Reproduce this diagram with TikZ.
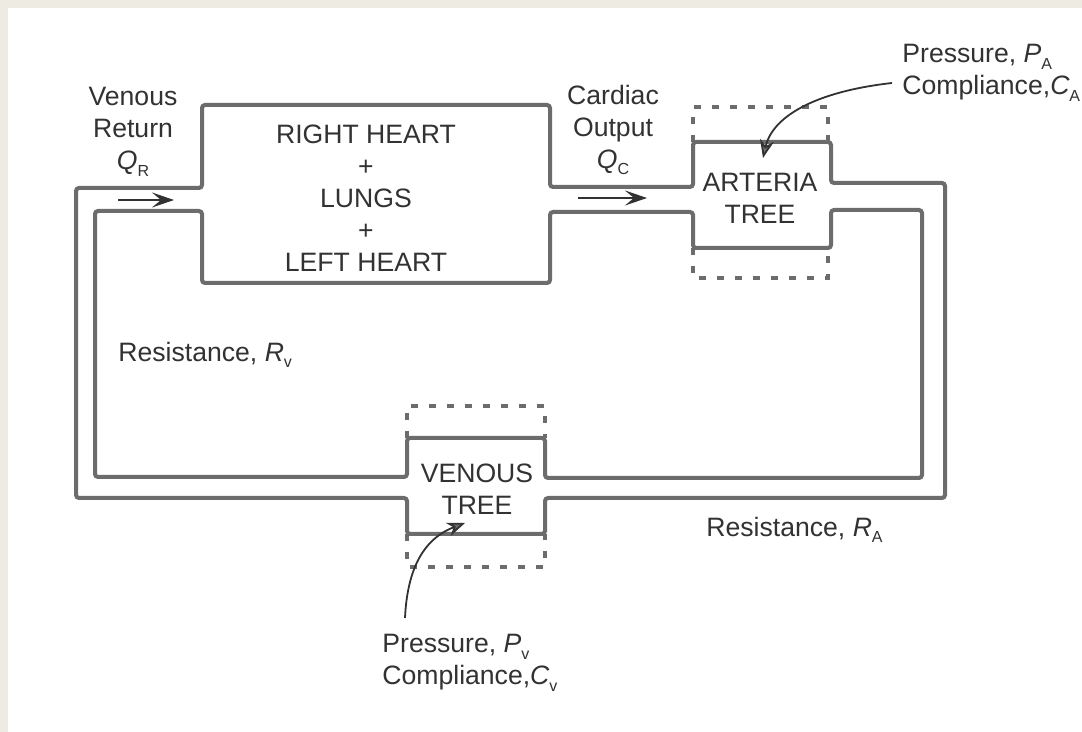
\documentclass[tikz,border=0pt]{standalone}
\usepackage{fontspec}
\setmainfont{Liberation Sans}
\usetikzlibrary{arrows.meta}
\usepackage{xcolor}
\definecolor{paper}{RGB}{237, 235, 226}
\definecolor{pipe}{RGB}{108, 108, 108}
\definecolor{ink}{RGB}{50, 50, 50}
\newcommand{\physvar}[2]{{\itshape #1}\raisebox{-3.2pt}{\fontsize{8}{8}\selectfont #2}}

\begin{document}
\begin{tikzpicture}[
  x=0.5pt, y=-0.5pt,
  wall/.style={draw=pipe, line width=2pt, rounded corners=1.5pt},
  cell/.style={draw=pipe, line width=1.6pt, dash pattern=on 3.5pt off 5.5pt},
  lbl/.style={text=ink, font=\fontsize{13.3}{16}\selectfont, inner sep=0pt,
              align=center},
  flow/.style={draw=ink, line width=1pt,
               -{Stealth[length=11pt, width=7.5pt, inset=4.5pt]}},
  pointer/.style={draw=ink, line width=0.9pt,
                  -{Stealth[length=9pt, width=7pt, fill=pipe]}}
]
  \fill[paper] (0,0) rectangle (1082,732);
  \fill[white] (8,8) rectangle (1082,732);
  \useasboundingbox (0,0) rectangle (1082,732);

  \draw[wall] (76,188) -- (202,188) -- (202,105) -- (550,105) -- (550,187)
    -- (693,187) -- (693,142) -- (831,142) -- (831,183) -- (945,183)
    -- (945,498) -- (545,498) -- (545,534) -- (407,534) -- (407,498)
    -- (76,498) -- cycle;
  \draw[wall] (95,211) -- (202,211) -- (202,283) -- (550,283) -- (550,212)
    -- (693,212) -- (693,248) -- (831,248) -- (831,210) -- (922,210)
    -- (922,478) -- (545,478) -- (545,438) -- (407,438) -- (407,477)
    -- (95,477) -- cycle;

  \draw[cell] (693,142) -- (693,107) -- (828,107) -- (828,142);
  \draw[cell] (693,248) -- (693,278) -- (828,278) -- (828,248);
  \draw[cell] (407,438) -- (407,406) -- (545,406) -- (545,438);
  \draw[cell] (407,534) -- (407,567) -- (545,567) -- (545,534);

  \node[lbl] (heart) at (366,198)
    {RIGHT HEART\\+\\LUNGS\\+\\LEFT HEART};
  \node[lbl] (venret) at (133,132) {Venous\\Return\\\physvar{Q}{R}};
  \node[lbl] (cardout) at (613,130) {Cardiac\\Output\\\physvar{Q}{C}};
  \node[lbl] (arttree) at (760,198) {ARTERIA\\TREE};
  \node[lbl] (ventree) at (477,489) {VENOUS\\TREE};
  \node[lbl, anchor=west] (resv) at (118,355) {Resistance, \physvar{R}{v}};
  \node[lbl, anchor=west] (resa) at (706,530) {Resistance, \physvar{R}{A}};
  \node[lbl, align=left, anchor=west] (artprop) at (902,73)
    {Pressure, \physvar{P}{A}\\Compliance,\physvar{C}{A}};
  \node[lbl, align=left, anchor=west] (venprop) at (382,663)
    {Pressure, \physvar{P}{v}\\Compliance,\physvar{C}{v}};

  \coordinate (qrtail) at (118,200);
  \coordinate (qrhead) at (174,200);
  \coordinate (qctail) at (578,198);
  \coordinate (qchead) at (647,198);
  \draw[flow] (qrtail) -- (qrhead);
  \draw[flow] (qctail) -- (qchead);

  \coordinate (artstart) at (892,83);
  \coordinate (arttip) at (763,158);
  \coordinate (venstart) at (405,618);
  \coordinate (ventip) at (465,523);
  \draw[pointer] (artstart) .. controls (812,92) and (772,118) .. (arttip);
  \draw[pointer] (venstart) .. controls (407,575) and (420,540) .. (ventip);
\end{tikzpicture}
\end{document}
